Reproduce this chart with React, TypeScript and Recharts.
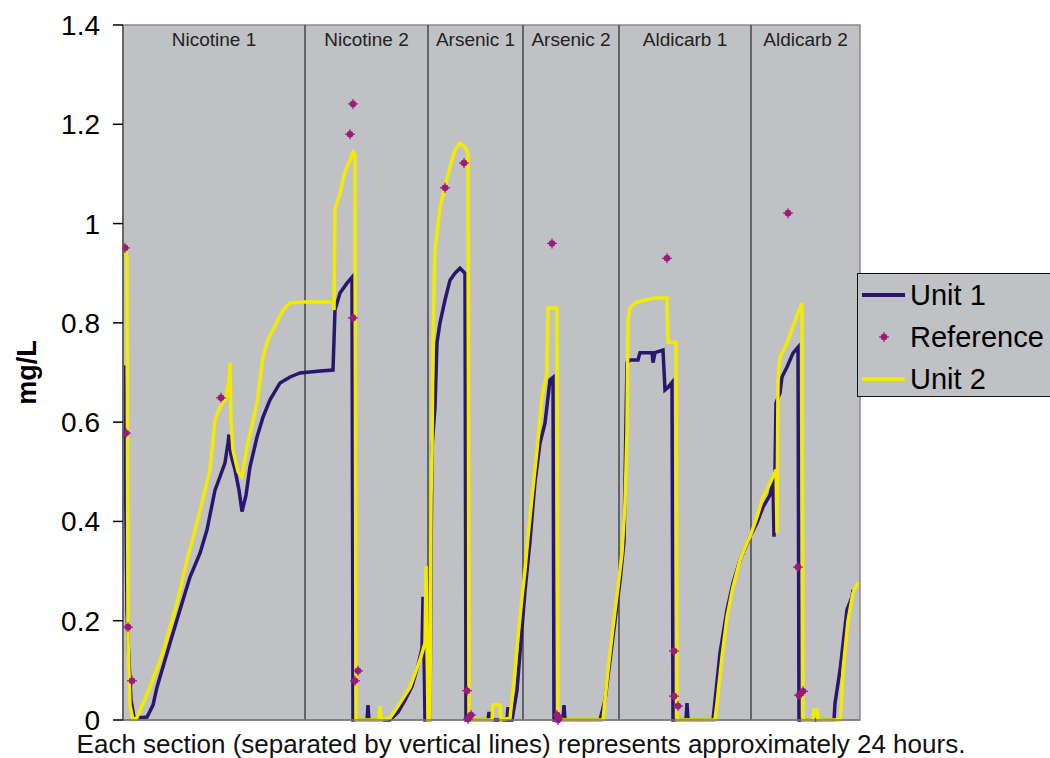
import React from 'react';
import {
  ComposedChart,
  Line,
  Scatter,
  XAxis,
  YAxis,
  CartesianGrid,
  ReferenceLine,
  ReferenceArea,
  Legend,
} from 'recharts';

// Section names and their boundaries on the time axis (arbitrary time index)
const sectionNames = ['Nicotine 1', 'Nicotine 2', 'Arsenic 1', 'Arsenic 2', 'Aldicarb 1', 'Aldicarb 2'];
const sectionBounds = [0, 182, 305, 400, 496, 628, 737];
const yTicks = [0, 0.2, 0.4, 0.6, 0.8, 1, 1.2, 1.4];
const captionText = 'Each section (separated by vertical lines) represents approximately 24 hours.';

// Unit 1 readings [time, mg/L]
const unit1Values: [number, number][] = [
  [0, 0.711], [1, 0.711], [3, 0.4], [4, 0.22], [5, 0.16], [8, 0.04], [11, 0.005], [20, 0.005], [24, 0.006],
  [30, 0.03], [34, 0.066], [47, 0.155], [57, 0.222], [67, 0.288], [77, 0.336], [84, 0.383], [92, 0.463],
  [97, 0.49], [102, 0.518], [105, 0.558], [106, 0.575], [108, 0.534], [112, 0.504], [116, 0.463], [119, 0.42],
  [123, 0.453], [127, 0.51], [134, 0.57], [140, 0.61], [147, 0.645], [157, 0.679], [167, 0.691], [177, 0.699],
  [197, 0.703], [210, 0.705], [212, 0.826], [217, 0.86], [224, 0.88], [229, 0.892], [230, 0],
  [244, 0], [245, 0.03], [246, 0], [267, 0], [275, 0.016], [282, 0.04], [289, 0.068], [295, 0.11], [299, 0.145],
  [300, 0.248], [301, 0.14], [302, 0], [307, 0], [308, 0.32], [309, 0.55], [312, 0.63], [314, 0.76], [317, 0.8],
  [322, 0.846], [327, 0.886], [332, 0.9], [337, 0.91], [342, 0.9], [343, 0],
  [365, 0], [366, 0.016], [367, 0], [384, 0], [385, 0.026], [386, 0], [389, 0], [394, 0.06], [398, 0.16],
  [402, 0.26], [407, 0.36], [412, 0.48], [417, 0.558], [422, 0.598], [427, 0.685], [430, 0.69], [431, 0],
  [440, 0], [441, 0.03], [442, 0], [477, 0], [482, 0.04], [487, 0.12], [492, 0.2], [497, 0.28], [501, 0.36],
  [502, 0.48], [503, 0.6], [504, 0.72], [507, 0.725], [515, 0.725], [517, 0.74], [529, 0.74], [530, 0.72],
  [532, 0.74], [540, 0.745], [542, 0.665], [545, 0.67], [549, 0.68], [550, 0],
  [563, 0], [564, 0.034], [565, 0], [590, 0], [597, 0.135], [604, 0.222], [610, 0.276], [617, 0.322],
  [627, 0.369], [634, 0.397], [640, 0.429], [647, 0.453], [650, 0.483], [651, 0.369], [652, 0.504],
  [653, 0.639], [657, 0.659], [659, 0.691], [664, 0.711], [670, 0.739], [675, 0.751], [676, 0],
  [711, 0], [712, 0.034], [717, 0.1], [724, 0.222], [729, 0.248], [730, 0.262],
];

// Unit 2 readings [time, mg/L]
const unit2Values: [number, number][] = [
  [2, 0.95], [4, 0.93], [5, 0.16], [7, 0.03], [10, 0], [14, 0.005], [27, 0.066], [40, 0.137], [54, 0.236],
  [64, 0.322], [74, 0.397], [87, 0.504], [92, 0.604], [97, 0.63], [103, 0.65], [106, 0.685], [107, 0.72],
  [108, 0.6], [110, 0.544], [115, 0.5], [119, 0.49], [124, 0.55], [129, 0.594], [134, 0.639], [140, 0.731],
  [145, 0.766], [150, 0.786], [160, 0.826], [167, 0.84], [180, 0.842], [210, 0.842], [211, 0.826],
  [212, 1.03], [217, 1.06], [221, 1.098], [224, 1.114], [227, 1.128], [230, 1.144], [232, 1.138], [233, 0],
  [256, 0], [257, 0.028], [258, 0], [267, 0.004], [277, 0.034], [287, 0.066], [297, 0.121], [302, 0.155],
  [303, 0.31], [304, 0.16], [305, 0], [307, 0], [308, 0.443], [309, 0.544], [310, 0.76], [311, 0.866],
  [312, 0.947], [317, 1.033], [322, 1.074], [327, 1.114], [332, 1.148], [337, 1.162], [342, 1.154],
  [345, 1.142], [346, 0],
  [369, 0], [370, 0.03], [377, 0.03], [378, 0], [387, 0.004], [392, 0.1], [395, 0.167], [399, 0.248],
  [402, 0.302], [405, 0.369], [409, 0.449], [414, 0.544], [419, 0.651], [424, 0.699], [425, 0.83],
  [434, 0.83], [435, 0],
  [480, 0], [481, 0.02], [485, 0.1], [490, 0.187], [495, 0.268], [499, 0.336], [502, 0.437], [503, 0.504],
  [504, 0.584], [505, 0.806], [507, 0.83], [512, 0.84], [522, 0.846], [532, 0.85], [544, 0.85],
  [545, 0.761], [553, 0.761], [554, 0],
  [592, 0], [594, 0.034], [599, 0.127], [604, 0.207], [610, 0.268], [617, 0.322], [624, 0.357],
  [627, 0.369], [634, 0.409], [640, 0.449], [647, 0.477], [653, 0.504], [654, 0.377], [655, 0.685],
  [657, 0.731], [664, 0.759], [670, 0.792], [675, 0.82], [679, 0.84], [680, 0],
  [690, 0], [691, 0.02], [694, 0.02], [695, 0], [717, 0], [718, 0.02], [720, 0.1], [725, 0.2],
  [730, 0.256], [735, 0.278],
];

// Reference (grab sample) measurements [time, mg/L]
const referenceValues: [number, number][] = [
  [2, 0.951], [3, 0.578], [5, 0.187], [9, 0.079], [98, 0.649],
  [227, 1.18], [230, 1.241], [230, 0.81], [232, 0.079], [235, 0.099],
  [322, 1.072], [341, 1.122], [344, 0.059], [345, 0.002], [348, 0.01],
  [429, 0.96], [434, 0.01], [435, 0.0], [436, 0.005],
  [544, 0.93], [551, 0.139], [551, 0.048], [555, 0.028],
  [665, 1.021], [675, 0.308], [676, 0.05], [680, 0.058],
];

const unit1Data = unit1Values.map(([t, v]) => ({ t, v }));
const unit2Data = unit2Values.map(([t, v]) => ({ t, v }));
const referenceData = referenceValues.map(([t, v]) => ({ t, v }));

const NAVY = '#28166f';
const YELLOW = '#f2ea00';
const MAGENTA = '#9b1b7b';
const BG = '#c0c1c5';
const FONT = '"Liberation Sans", Arial, sans-serif';

const RefMarker = (props: any) => {
  const { cx, cy } = props;
  if (cx == null || cy == null) return null;
  return (
    <g>
      <line x1={cx - 5} y1={cy} x2={cx + 5} y2={cy} stroke={MAGENTA} strokeWidth={1.2} />
      <line x1={cx} y1={cy - 5} x2={cx} y2={cy + 5} stroke={MAGENTA} strokeWidth={1.2} />
      <circle cx={cx} cy={cy} r={3.3} fill={MAGENTA} />
    </g>
  );
};

const legendItems = [
  { name: 'Unit 1', kind: 'line', color: NAVY },
  { name: 'Reference', kind: 'dot', color: MAGENTA },
  { name: 'Unit 2', kind: 'line', color: YELLOW },
];

const renderLegend = () => (
  <div
    style={{
      width: 230,
      height: 124,
      border: '1px solid #111',
      background: BG,
      boxSizing: 'border-box',
      overflow: 'hidden',
      fontFamily: FONT,
    }}
  >
    {legendItems.map((it) => (
      <div key={it.name} style={{ display: 'flex', alignItems: 'center', height: 42 }}>
        <svg width={52} height={20} style={{ flex: 'none' }}>
          {it.kind === 'line' ? (
            <line x1={4} y1={10} x2={47} y2={10} stroke={it.color} strokeWidth={4} />
          ) : (
            <g>
              <line x1={21} y1={10} x2={31} y2={10} stroke={it.color} strokeWidth={1.2} />
              <line x1={26} y1={5} x2={26} y2={15} stroke={it.color} strokeWidth={1.2} />
              <circle cx={26} cy={10} r={3.3} fill={it.color} />
            </g>
          )}
        </svg>
        <span style={{ fontSize: 29, color: '#000', lineHeight: '30px' }}>{it.name}</span>
      </div>
    ))}
  </div>
);

export default function App() {
  return (
    <div
      style={{
        position: 'absolute',
        left: 0,
        top: 0,
        width: 1050,
        height: 758,
        overflow: 'hidden',
        background: '#fff',
        fontFamily: FONT,
      }}
    >
      <ComposedChart
        width={1050}
        height={758}
        margin={{ top: 25, right: 190, bottom: 0, left: 0 }}
      >
        <CartesianGrid fill={BG} horizontal={false} vertical={false} />
        <XAxis
          dataKey="t"
          type="number"
          domain={[sectionBounds[0], sectionBounds[sectionBounds.length - 1]]}
          allowDataOverflow
          height={38}
          tick={false}
          tickLine={false}
          axisLine={{ stroke: '#7a7a7a', strokeWidth: 1.5 }}
        />
        <YAxis
          type="number"
          domain={[0, 1.4]}
          ticks={yTicks}
          width={123}
          tickSize={10}
          tickMargin={13}
          tickFormatter={(v: number) => String(v)}
          tick={{ fontSize: 28, fill: '#000', fontFamily: FONT }}
          tickLine={{ stroke: '#000', strokeWidth: 1.5 }}
          axisLine={{ stroke: '#666', strokeWidth: 2 }}
          label={{
            value: 'mg/L',
            angle: -90,
            position: 'insideLeft',
            offset: 26,
            style: { textAnchor: 'middle', fontSize: 27, fontWeight: 'bold', fill: '#000', fontFamily: FONT },
          }}
        />
        <ReferenceArea
          x1={sectionBounds[0]}
          x2={sectionBounds[sectionBounds.length - 1]}
          y1={0}
          y2={1.4}
          fill="none"
          fillOpacity={0}
          stroke="#8a8a8a"
          strokeWidth={1.5}
        />
        {sectionNames.map((name, i) => (
          <ReferenceArea
            key={name}
            x1={sectionBounds[i]}
            x2={sectionBounds[i + 1]}
            fillOpacity={0}
            strokeOpacity={0}
            label={{
              value: name,
              position: 'insideTop',
              offset: 8,
              style: { fontSize: 19, fill: '#222', fontFamily: FONT },
            }}
          />
        ))}
        {sectionBounds.slice(1, -1).map((b) => (
          <ReferenceLine key={b} x={b} stroke="#444" strokeWidth={1.5} />
        ))}
        <Line
          data={unit1Data}
          dataKey="v"
          name="Unit 1"
          type="linear"
          stroke={NAVY}
          strokeWidth={3.5}
          dot={false}
          activeDot={false}
          isAnimationActive={false}
        />
        <Line
          data={unit2Data}
          dataKey="v"
          name="Unit 2"
          type="linear"
          stroke={YELLOW}
          strokeWidth={3.5}
          dot={false}
          activeDot={false}
          isAnimationActive={false}
        />
        <Scatter
          data={referenceData}
          dataKey="v"
          name="Reference"
          fill={MAGENTA}
          shape={RefMarker}
          isAnimationActive={false}
        />
        <Legend
          layout="horizontal"
          verticalAlign="middle"
          align="center"
          content={renderLegend}
          wrapperStyle={{ left: 857, top: 273, width: 230, height: 124 }}
        />
      </ComposedChart>
      <div
        style={{
          position: 'absolute',
          left: 0,
          width: 1042,
          top: 738,
          height: 12,
          textAlign: 'center',
          fontSize: 26,
          lineHeight: '12px',
          color: '#111',
          fontFamily: FONT,
          whiteSpace: 'nowrap',
        }}
      >
        {captionText}
      </div>
    </div>
  );
}
